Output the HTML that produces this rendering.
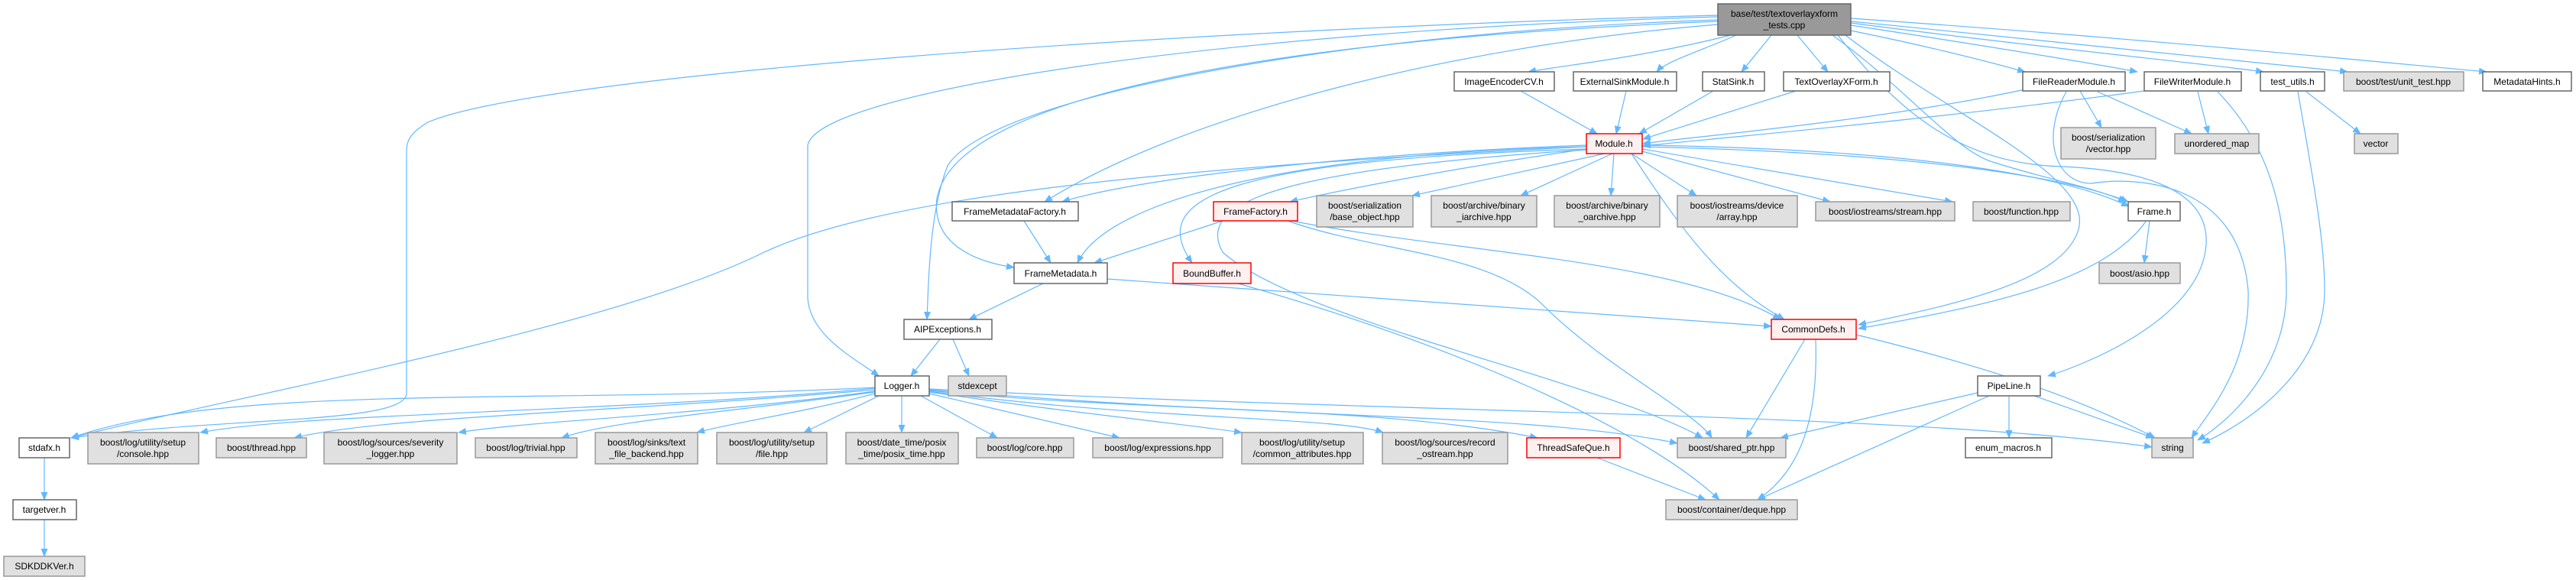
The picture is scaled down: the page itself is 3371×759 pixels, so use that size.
<!DOCTYPE html>
<html><head><meta charset="utf-8"><style>
html,body{margin:0;padding:0;background:#fff;}
svg{display:block;}
text{font-family:"Liberation Sans",Arial,sans-serif;font-size:12px;fill:#000;text-anchor:middle;}
.w{fill:#fff;stroke:#666;stroke-width:1.5;}
.g{fill:#e0e0e0;stroke:#999;stroke-width:1.5;}
.r{fill:#fff0f0;stroke:#f00;stroke-width:1.5;}
.m{fill:#999;stroke:#666;stroke-width:1.5;}
path.e{fill:none;stroke:#63b8ff;stroke-width:1.2;marker-end:url(#a);}
</style></head><body>
<svg width="3371" height="759" viewBox="0 0 3371 759" xmlns="http://www.w3.org/2000/svg">
<defs><marker id="a" markerUnits="userSpaceOnUse" markerWidth="11" markerHeight="9" refX="10" refY="4.5" orient="auto"><path d="M0,0 L11,4.5 L0,9 z" fill="#63b8ff"/></marker></defs>
<g>
<path class="e" d="M2265,46 C2150,75 2050,85 2000,94"/>
<path class="e" d="M2272,46 C2230,65 2180,80 2168,94"/>
<path class="e" d="M2318,46 L2279,94"/>
<path class="e" d="M2352,46 L2392,94"/>
<path class="e" d="M2422,40 C2520,60 2600,80 2650,94"/>
<path class="e" d="M2422,33 C2600,60 2750,85 2797,94"/>
<path class="e" d="M2422,30 C2650,60 2900,85 2962,94"/>
<path class="e" d="M2422,28 C2700,55 3000,85 3072,94"/>
<path class="e" d="M2422,24 C2800,50 3100,80 3254,94"/>
<path class="e" d="M2248,32 C1900,60 1550,150 1367,264"/>
<path class="e" d="M2248,28 C1700,50 1250,120 1226,260 C1220,310 1260,340 1327,350"/>
<path class="e" d="M2248,26 C1800,40 1300,120 1240,217 C1215,280 1215,380 1213,418"/>
<path class="e" d="M2248,22 C1600,40 1070,120 1057,190 L1057,390 C1060,440 1120,470 1150,492"/>
<path class="e" d="M2248,20 C1500,40 700,100 560,160 C535,175 532,185 532,200 L532,515 C530,555 300,545 93,573"/>
<path class="e" d="M2398,46 C2500,120 2560,200 2611,213 C2680,235 2740,245 2782,264"/>
<path class="e" d="M2405,46 C2480,140 2560,215 2700,218 C2850,225 2890,270 2887,320 C2880,420 2720,480 2680,492"/>
<path class="e" d="M2415,46 C2550,150 2740,230 2720,300 C2700,370 2550,400 2432,425"/>
<path class="e" d="M1990,119 L2090,175"/>
<path class="e" d="M2128,119 L2115,175"/>
<path class="e" d="M2242,119 L2145,175"/>
<path class="e" d="M2350,119 L2150,182"/>
<path class="e" d="M2650,117 C2450,160 2200,180 2150,188"/>
<path class="e" d="M2806,119 C2500,160 2200,185 2150,191"/>
<path class="e" d="M2076,190 C1800,200 1500,230 1390,264"/>
<path class="e" d="M2076,192 C1700,200 1450,260 1410,344"/>
<path class="e" d="M2076,195 C1900,220 1750,250 1688,264"/>
<path class="e" d="M2076,195 C1600,210 1500,260 1560,344"/>
<path class="e" d="M2100,201 L1848,256"/>
<path class="e" d="M2110,201 L1990,256"/>
<path class="e" d="M2112,201 L2108,256"/>
<path class="e" d="M2135,201 L2220,256"/>
<path class="e" d="M2149,198 L2395,264"/>
<path class="e" d="M2149,195 L2555,264"/>
<path class="e" d="M2149,192 C2500,200 2700,230 2785,264"/>
<path class="e" d="M2149,190 C2480,195 2690,225 2786,270"/>
<path class="e" d="M2135,201 C2200,300 2250,370 2335,418"/>
<path class="e" d="M2076,196 C1700,220 1560,260 1600,330 C1700,420 2100,500 2228,573"/>
<path class="e" d="M2076,192 C1500,220 1150,260 1000,330 C800,430 300,520 93,573"/>
<path class="e" d="M1685,289 C1800,330 1950,330 2020,400 C2100,480 2220,540 2240,573"/>
<path class="e" d="M1690,289 C1900,330 2200,340 2330,418"/>
<path class="e" d="M1600,289 L1432,344"/>
<path class="e" d="M1340,289 L1375,344"/>
<path class="e" d="M1449,365 L2318,427"/>
<path class="e" d="M1620,371 C1900,450 2150,560 2250,654"/>
<path class="e" d="M1365,371 L1268,418"/>
<path class="e" d="M1230,444 L1192,492"/>
<path class="e" d="M1247,444 L1268,492"/>
<path class="e" d="M2808,290 C2750,370 2600,400 2432,430"/>
<path class="e" d="M2813,289 L2806,344"/>
<path class="e" d="M1180,518 L1180,566"/>
<path class="e" d="M1205,518 L1305,573"/>
<path class="e" d="M1216,515 L1465,573"/>
<path class="e" d="M1216,513 C1400,540 1550,555 1625,566"/>
<path class="e" d="M1216,512 C1500,550 1750,545 1810,566"/>
<path class="e" d="M1216,511 C1500,540 1800,530 2012,573"/>
<path class="e" d="M1216,510 C1700,550 2000,540 2195,580"/>
<path class="e" d="M1216,509 C1800,540 2500,540 2816,585"/>
<path class="e" d="M1145,507 C700,530 300,500 93,573"/>
<path class="e" d="M1145,508 C800,540 400,540 262,566"/>
<path class="e" d="M1145,510 C800,540 500,545 385,573"/>
<path class="e" d="M1145,512 C900,545 700,550 600,566"/>
<path class="e" d="M1145,513 C950,540 800,550 735,573"/>
<path class="e" d="M1145,515 C1050,540 950,555 912,566"/>
<path class="e" d="M1150,518 L1052,566"/>
<path class="e" d="M2090,599 L2232,654"/>
<path class="e" d="M2362,444 L2285,573"/>
<path class="e" d="M2376,444 C2380,560 2350,620 2300,654"/>
<path class="e" d="M2429,438 C2600,480 2720,520 2820,573"/>
<path class="e" d="M2588,514 L2330,573"/>
<path class="e" d="M2603,518 L2300,654"/>
<path class="e" d="M2629,518 L2629,573"/>
<path class="e" d="M2662,518 L2818,573"/>
<path class="e" d="M58,599 L58,654"/>
<path class="e" d="M58,680 L58,728"/>
<path class="e" d="M2722,119 L2750,167"/>
<path class="e" d="M2745,120 L2868,175"/>
<path class="e" d="M2876,120 L2890,175"/>
<path class="e" d="M3018,120 L3089,175"/>
<path class="e" d="M2704,120 C2670,180 2690,240 2737,240 C2800,230 2930,240 2942,380 C2945,480 2890,540 2868,573"/>
<path class="e" d="M2902,120 C2980,200 2992,300 2992,380 C2992,480 2920,550 2876,576"/>
<path class="e" d="M3007,120 C3030,250 3042,320 3042,380 C3042,480 2950,550 2882,580"/>
</g>
<rect class="m" x="2248" y="5" width="174" height="41"/><text x="2335" y="22">base/test/textoverlayxform</text><text x="2335" y="37">_tests.cpp</text>
<rect class="w" x="1903" y="94" width="131" height="25"/><text x="1968" y="111">ImageEncoderCV.h</text>
<rect class="w" x="2059" y="94" width="135" height="25"/><text x="2126" y="111">ExternalSinkModule.h</text>
<rect class="w" x="2228" y="94" width="81" height="25"/><text x="2268" y="111">StatSink.h</text>
<rect class="w" x="2334" y="94" width="139" height="25"/><text x="2403" y="111">TextOverlayXForm.h</text>
<rect class="w" x="2647" y="94" width="134" height="25"/><text x="2714" y="111">FileReaderModule.h</text>
<rect class="w" x="2806" y="94" width="127" height="25"/><text x="2869" y="111">FileWriterModule.h</text>
<rect class="w" x="2958" y="94" width="84" height="25"/><text x="3000" y="111">test_utils.h</text>
<rect class="g" x="3067" y="94" width="157" height="25"/><text x="3145" y="111">boost/test/unit_test.hpp</text>
<rect class="w" x="3249" y="94" width="116" height="25"/><text x="3307" y="111">MetadataHints.h</text>
<rect class="r" x="2076" y="175" width="73" height="26"/><text x="2112" y="192">Module.h</text>
<rect class="g" x="2697" y="167" width="124" height="41"/><text x="2759" y="184">boost/serialization</text><text x="2759" y="199">/vector.hpp</text>
<rect class="g" x="2846" y="175" width="110" height="26"/><text x="2901" y="192">unordered_map</text>
<rect class="g" x="3081" y="175" width="57" height="26"/><text x="3109" y="192">vector</text>
<rect class="w" x="1246" y="264" width="165" height="25"/><text x="1328" y="281">FrameMetadataFactory.h</text>
<rect class="r" x="1588" y="264" width="110" height="25"/><text x="1643" y="281">FrameFactory.h</text>
<rect class="g" x="1723" y="256" width="126" height="41"/><text x="1786" y="273">boost/serialization</text><text x="1786" y="288">/base_object.hpp</text>
<rect class="g" x="1873" y="256" width="138" height="41"/><text x="1942" y="273">boost/archive/binary</text><text x="1942" y="288">_iarchive.hpp</text>
<rect class="g" x="2034" y="256" width="138" height="41"/><text x="2103" y="273">boost/archive/binary</text><text x="2103" y="288">_oarchive.hpp</text>
<rect class="g" x="2195" y="256" width="157" height="41"/><text x="2273" y="273">boost/iostreams/device</text><text x="2273" y="288">/array.hpp</text>
<rect class="g" x="2376" y="264" width="182" height="25"/><text x="2467" y="281">boost/iostreams/stream.hpp</text>
<rect class="g" x="2582" y="264" width="127" height="25"/><text x="2645" y="281">boost/function.hpp</text>
<rect class="w" x="2785" y="264" width="68" height="25"/><text x="2819" y="281">Frame.h</text>
<rect class="w" x="1327" y="344" width="122" height="27"/><text x="1388" y="362">FrameMetadata.h</text>
<rect class="r" x="1535" y="344" width="102" height="27"/><text x="1586" y="362">BoundBuffer.h</text>
<rect class="g" x="2747" y="344" width="106" height="27"/><text x="2800" y="362">boost/asio.hpp</text>
<rect class="w" x="1183" y="418" width="115" height="26"/><text x="1240" y="435">AIPExceptions.h</text>
<rect class="r" x="2318" y="418" width="111" height="26"/><text x="2373" y="435">CommonDefs.h</text>
<rect class="w" x="1145" y="492" width="71" height="26"/><text x="1180" y="509">Logger.h</text>
<rect class="g" x="1241" y="492" width="76" height="26"/><text x="1279" y="509">stdexcept</text>
<rect class="w" x="2588" y="492" width="82" height="26"/><text x="2629" y="509">PipeLine.h</text>
<rect class="w" x="25" y="573" width="66" height="26"/><text x="58" y="590">stdafx.h</text>
<rect class="g" x="115" y="566" width="145" height="41"/><text x="187" y="583">boost/log/utility/setup</text><text x="187" y="598">/console.hpp</text>
<rect class="g" x="283" y="573" width="118" height="26"/><text x="342" y="590">boost/thread.hpp</text>
<rect class="g" x="424" y="566" width="174" height="41"/><text x="511" y="583">boost/log/sources/severity</text><text x="511" y="598">_logger.hpp</text>
<rect class="g" x="622" y="573" width="133" height="26"/><text x="688" y="590">boost/log/trivial.hpp</text>
<rect class="g" x="779" y="566" width="134" height="41"/><text x="846" y="583">boost/log/sinks/text</text><text x="846" y="598">_file_backend.hpp</text>
<rect class="g" x="938" y="566" width="144" height="41"/><text x="1010" y="583">boost/log/utility/setup</text><text x="1010" y="598">/file.hpp</text>
<rect class="g" x="1107" y="566" width="147" height="41"/><text x="1180" y="583">boost/date_time/posix</text><text x="1180" y="598">_time/posix_time.hpp</text>
<rect class="g" x="1278" y="573" width="127" height="26"/><text x="1341" y="590">boost/log/core.hpp</text>
<rect class="g" x="1430" y="573" width="170" height="26"/><text x="1515" y="590">boost/log/expressions.hpp</text>
<rect class="g" x="1625" y="566" width="159" height="41"/><text x="1704" y="583">boost/log/utility/setup</text><text x="1704" y="598">/common_attributes.hpp</text>
<rect class="g" x="1809" y="566" width="164" height="41"/><text x="1891" y="583">boost/log/sources/record</text><text x="1891" y="598">_ostream.hpp</text>
<rect class="r" x="1998" y="573" width="122" height="26"/><text x="2059" y="590">ThreadSafeQue.h</text>
<rect class="g" x="2195" y="573" width="142" height="26"/><text x="2266" y="590">boost/shared_ptr.hpp</text>
<rect class="w" x="2572" y="573" width="113" height="26"/><text x="2628" y="590">enum_macros.h</text>
<rect class="g" x="2816" y="573" width="54" height="26"/><text x="2843" y="590">string</text>
<rect class="w" x="17" y="654" width="83" height="26"/><text x="58" y="671">targetver.h</text>
<rect class="g" x="2180" y="654" width="172" height="26"/><text x="2266" y="671">boost/container/deque.hpp</text>
<rect class="g" x="5" y="728" width="106" height="26"/><text x="58" y="745">SDKDDKVer.h</text>
</svg>
</body></html>
